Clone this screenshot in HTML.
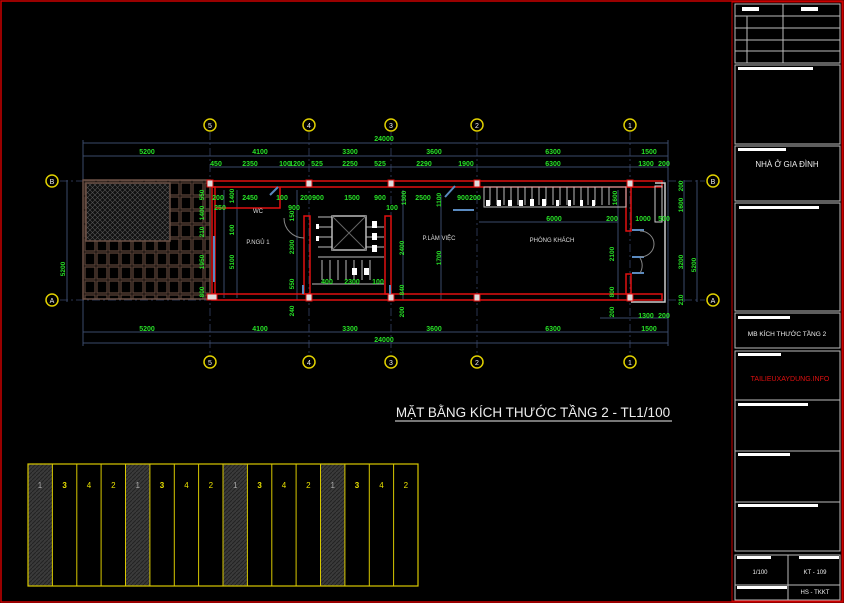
<!DOCTYPE html>
<html><head><meta charset="utf-8"><style>
html,body{margin:0;padding:0;background:#000;}
svg{display:block}
text{font-family:"Liberation Sans",sans-serif}
.g{fill:#27e027;font-size:7px;font-weight:bold;text-anchor:middle}
.w{fill:#ddd;font-size:6px;text-anchor:middle}
.dl{stroke:#3a4a6a;stroke-width:1;fill:none}
.ax{stroke:#2a3550;stroke-width:1;stroke-dasharray:8 3 2 3}
.rw{fill:none;stroke:#e01010;stroke-width:1.5}
.tb{fill:none;stroke:#bbb;stroke-width:1}
</style></head><body>
<svg width="844" height="603" viewBox="0 0 844 603" xmlns="http://www.w3.org/2000/svg">
<defs>
<pattern id="hat" width="4" height="4" patternUnits="userSpaceOnUse"><rect width="4" height="4" fill="#3a3a3a"/><path d="M0 4L4 0" stroke="#222" stroke-width="1"/></pattern>
<pattern id="dot" width="5" height="5" patternUnits="userSpaceOnUse"><rect width="5" height="5" fill="#111"/><path d="M0 0L5 5M5 0L0 5" stroke="#555" stroke-width=".6"/></pattern>
<pattern id="brk" width="12" height="14" patternUnits="userSpaceOnUse"><rect width="12" height="14" fill="#000"/><rect x="1" y="1" width="10" height="12" fill="none" stroke="#5a4238" stroke-width="1.3"/></pattern>
</defs>
<rect x="1" y="1" width="842" height="601" fill="none" stroke="#c00" stroke-width="1.5"/>
<rect x="732" y="2" width="110" height="599" fill="none" stroke="#c00" stroke-width="1"/>

<!-- axes -->
<g class="ax">
<line x1="210" y1="132" x2="210" y2="355"/><line x1="309" y1="132" x2="309" y2="355"/>
<line x1="391" y1="132" x2="391" y2="355"/><line x1="477" y1="132" x2="477" y2="355"/>
<line x1="630" y1="132" x2="630" y2="355"/>
<line x1="60" y1="181" x2="705" y2="181"/><line x1="60" y1="300" x2="705" y2="300"/>
</g>
<!-- dimension lines -->
<g class="dl">
<line x1="83" y1="143" x2="668" y2="143"/><line x1="83" y1="156" x2="668" y2="156"/><line x1="210" y1="167" x2="668" y2="167"/>
<line x1="83" y1="332" x2="668" y2="332"/><line x1="83" y1="343" x2="668" y2="343"/><line x1="600" y1="318" x2="668" y2="318"/>
<line x1="67" y1="180" x2="67" y2="302"/><line x1="83" y1="140" x2="83" y2="346"/>
<line x1="684" y1="180" x2="684" y2="302"/><line x1="697" y1="180" x2="697" y2="302"/>
<line x1="668" y1="140" x2="668" y2="346"/>
<line x1="224" y1="190" x2="224" y2="298"/><line x1="237" y1="190" x2="237" y2="298"/>
<line x1="297" y1="190" x2="297" y2="300"/><line x1="403" y1="190" x2="403" y2="300"/>
<line x1="441" y1="195" x2="441" y2="300"/><line x1="618" y1="190" x2="618" y2="300"/>
<line x1="479" y1="222" x2="618" y2="222"/>
</g>
<!-- grid bubbles -->
<g fill="none" stroke="#e0d000" stroke-width="1.5">
<circle cx="210" cy="125" r="6"/><circle cx="309" cy="125" r="6"/><circle cx="391" cy="125" r="6"/><circle cx="477" cy="125" r="6"/><circle cx="630" cy="125" r="6"/>
<circle cx="210" cy="362" r="6"/><circle cx="309" cy="362" r="6"/><circle cx="391" cy="362" r="6"/><circle cx="477" cy="362" r="6"/><circle cx="630" cy="362" r="6"/>
<circle cx="52" cy="181" r="6"/><circle cx="52" cy="300" r="6"/><circle cx="713" cy="181" r="6"/><circle cx="713" cy="300" r="6"/>
</g>
<g fill="#eee" font-size="7" text-anchor="middle" font-family="Liberation Sans">
<text x="210" y="128">5</text><text x="309" y="128">4</text><text x="391" y="128">3</text><text x="477" y="128">2</text><text x="630" y="128">1</text>
<text x="210" y="365">5</text><text x="309" y="365">4</text><text x="391" y="365">3</text><text x="477" y="365">2</text><text x="630" y="365">1</text>
<text x="52" y="184">B</text><text x="52" y="303">A</text><text x="713" y="184">B</text><text x="713" y="303">A</text>
</g>

<!-- terrace -->
<rect x="83" y="180" width="127" height="119" fill="url(#brk)" stroke="#6a5045" stroke-width="1.5"/>
<rect x="86" y="183" width="84" height="58" fill="url(#dot)" stroke="#6a5045" stroke-width="1.5"/>

<!-- walls -->
<rect x="212" y="181" width="450" height="6" class="rw"/>
<rect x="212" y="294" width="450" height="6" class="rw"/>
<rect x="212" y="187" width="3" height="107" class="rw"/>
<polyline class="rw" points="215,208 280,208 280,187"/>
<rect x="304" y="216" width="6" height="78" class="rw"/>
<rect x="385" y="216" width="6" height="78" class="rw"/>
<rect x="626" y="187" width="5" height="44" class="rw"/>
<rect x="626" y="274" width="5" height="20" class="rw"/>
<polyline points="655,183 665,183 665,302 631,302" fill="none" stroke="#ccc" stroke-width="1.5"/>
<rect x="655" y="186" width="7" height="36" fill="none" stroke="#ccc"/>
<g fill="#ddd" stroke="#e01010"><rect x="207" y="180" width="6" height="7"/><rect x="306" y="180" width="6" height="7"/><rect x="388" y="180" width="6" height="7"/><rect x="474" y="180" width="6" height="7"/><rect x="627" y="180" width="6" height="7"/>
<rect x="207" y="294" width="10" height="6"/><rect x="306" y="294" width="6" height="7"/><rect x="388" y="294" width="6" height="7"/><rect x="474" y="294" width="6" height="7"/><rect x="627" y="294" width="6" height="7"/></g>

<!-- stair -->
<g stroke="#bbb" fill="none" stroke-width="1">
<rect x="332" y="216" width="34" height="34" stroke-width="1.5"/>
<line x1="332" y1="216" x2="366" y2="250" stroke="#666"/><line x1="366" y1="216" x2="332" y2="250" stroke="#666"/>
<path d="M318 217H332M318 227H332M318 237H332M318 247H332M318 257H332M366 227H384M366 237H384M366 247H384M366 257H384M318 257H384"/>
<path d="M322 260V280M330 260V280M338 260V280M346 260V280M354 260V280M362 260V280M370 260V280"/>
<line x1="312" y1="284" x2="384" y2="284"/>
</g>
<g fill="#fff"><rect x="316" y="224" width="3" height="5"/><rect x="316" y="236" width="3" height="5"/><rect x="372" y="221" width="5" height="7"/><rect x="372" y="233" width="5" height="7"/><rect x="372" y="245" width="5" height="7"/><rect x="352" y="268" width="5" height="7"/><rect x="364" y="268" width="5" height="7"/></g>
<!-- balcony rail -->
<g stroke="#bbb" fill="none"><rect x="484" y="187" width="142" height="20"/><path d="M490 187v18M497 187v18M504 187v18M511 187v18M518 187v18M525 187v18M532 187v18M539 187v18M546 187v18M553 187v18M560 187v18M567 187v18M574 187v18M581 187v18M588 187v18M595 187v18M602 187v18M609 187v18"/></g>
<g fill="#fff"><rect x="486" y="200" width="4" height="6"/><rect x="497" y="200" width="4" height="6"/><rect x="508" y="200" width="4" height="6"/><rect x="519" y="200" width="4" height="6"/><rect x="530" y="199" width="4" height="7"/><rect x="542" y="199" width="4" height="7"/><rect x="556" y="200" width="3" height="6"/><rect x="568" y="200" width="3" height="6"/><rect x="580" y="200" width="3" height="6"/><rect x="592" y="200" width="3" height="6"/></g>
<!-- windows/doors -->
<g stroke="#5a8ac0" stroke-width="2"><line x1="214" y1="236" x2="214" y2="282"/><line x1="303" y1="285" x2="303" y2="294"/><line x1="390" y1="285" x2="390" y2="294"/><line x1="632" y1="230" x2="644" y2="230"/><line x1="632" y1="273" x2="644" y2="273"/><line x1="632" y1="257" x2="644" y2="257"/><line x1="445" y1="197" x2="455" y2="186"/><line x1="270" y1="195" x2="278" y2="187"/><line x1="453" y1="210" x2="474" y2="210"/></g>
<g stroke="#888" fill="none"><path d="M640 231a14 13 0 0 1 0 26M640 258a14 14 0 0 1 0 15"/><path d="M284 218a20 20 0 0 0 20 20"/></g>

<!-- room labels -->
<text class="w" x="258" y="213">WC</text><text class="w" x="258" y="244">P.NGỦ 1</text>
<text class="w" x="439" y="240">P.LÀM VIỆC</text><text class="w" x="552" y="242">PHÒNG KHÁCH</text>

<!-- dimension texts -->
<g class="g">
<text x="384" y="141">24000</text><text x="384" y="342">24000</text>
<text x="147" y="154">5200</text><text x="260" y="154">4100</text><text x="350" y="154">3300</text><text x="434" y="154">3600</text><text x="553" y="154">6300</text><text x="649" y="154">1500</text>
<text x="147" y="331">5200</text><text x="260" y="331">4100</text><text x="350" y="331">3300</text><text x="434" y="331">3600</text><text x="553" y="331">6300</text><text x="649" y="331">1500</text>
<text x="216" y="166">450</text><text x="250" y="166">2350</text><text x="285" y="166">100</text><text x="297" y="166">1200</text><text x="317" y="166">525</text><text x="350" y="166">2250</text><text x="380" y="166">525</text><text x="424" y="166">2290</text><text x="466" y="166">1900</text><text x="553" y="166">6300</text><text x="646" y="166">1300</text><text x="664" y="166">200</text>
<text x="250" y="200">2450</text><text x="282" y="200">100</text><text x="306" y="200">200</text><text x="318" y="200">900</text><text x="352" y="200">1500</text><text x="380" y="200">900</text><text x="423" y="200">2500</text><text x="463" y="200">900</text><text x="475" y="200">200</text>
<text x="218" y="200">200</text><text x="220" y="210">250</text><text x="294" y="210">900</text><text x="392" y="210">100</text>
<text x="554" y="221">6000</text><text x="612" y="221">200</text><text x="643" y="221">1000</text><text x="664" y="221">500</text>
<text x="327" y="284">400</text><text x="352" y="284">2300</text><text x="378" y="284">100</text>
<text x="646" y="318">1300</text><text x="664" y="318">200</text>
</g>
<g class="g" style="font-size:6.5px">
<text transform="translate(65,269) rotate(-90)">5200</text>
<text transform="translate(204,195) rotate(-90)">550</text><text transform="translate(204,213) rotate(-90)">1400</text><text transform="translate(204,232) rotate(-90)">210</text><text transform="translate(204,262) rotate(-90)">1950</text><text transform="translate(204,292) rotate(-90)">800</text>
<text transform="translate(234,196) rotate(-90)">1400</text><text transform="translate(234,230) rotate(-90)">100</text><text transform="translate(234,262) rotate(-90)">5100</text>
<text transform="translate(294,247) rotate(-90)">2300</text><text transform="translate(294,216) rotate(-90)">150</text><text transform="translate(294,284) rotate(-90)">550</text><text transform="translate(294,311) rotate(-90)">240</text>
<text transform="translate(404,248) rotate(-90)">2400</text><text transform="translate(404,290) rotate(-90)">840</text><text transform="translate(404,312) rotate(-90)">200</text><text transform="translate(406,198) rotate(-90)">1300</text>
<text transform="translate(441,258) rotate(-90)">1700</text><text transform="translate(441,200) rotate(-90)">1100</text>
<text transform="translate(617,198) rotate(-90)">1600</text><text transform="translate(614,254) rotate(-90)">2100</text><text transform="translate(614,292) rotate(-90)">800</text><text transform="translate(614,312) rotate(-90)">200</text>
<text transform="translate(683,186) rotate(-90)">200</text><text transform="translate(683,205) rotate(-90)">1600</text><text transform="translate(683,262) rotate(-90)">3200</text><text transform="translate(683,300) rotate(-90)">210</text>
<text transform="translate(696,265) rotate(-90)">5200</text>
</g>

<!-- title -->
<text x="533" y="417" fill="#eee" font-size="13.5" text-anchor="middle">MẶT BẰNG KÍCH THƯỚC TẦNG 2 - TL1/100</text>
<line x1="395" y1="421" x2="672" y2="421" stroke="#eee" stroke-width="1"/>

<!-- bottom strips -->
<g>
<rect x="28" y="464" width="24.4" height="122" fill="url(#hat)"/>
<rect x="125.5" y="464" width="24.4" height="122" fill="url(#hat)"/>
<rect x="223" y="464" width="24.4" height="122" fill="url(#hat)"/>
<rect x="320.5" y="464" width="24.4" height="122" fill="url(#hat)"/>
<rect x="28" y="464" width="390" height="122" fill="none" stroke="#d8c800" stroke-width="1.2"/>
<path d="M52.4 464v122M76.8 464v122M101.1 464v122M125.5 464v122M149.9 464v122M174.3 464v122M198.6 464v122M223 464v122M247.4 464v122M271.8 464v122M296.1 464v122M320.5 464v122M344.9 464v122M369.3 464v122M393.6 464v122" stroke="#d8c800" stroke-width="1"/>
<g fill="#e8e000" font-size="8" text-anchor="middle" font-family="Liberation Sans">
<text x="40" y="488" fill="#aaa">1</text><text x="64.6" y="488" font-weight="bold">3</text><text x="89" y="488">4</text><text x="113.3" y="488">2</text>
<text x="137.7" y="488" fill="#aaa">1</text><text x="162" y="488" font-weight="bold">3</text><text x="186.5" y="488">4</text><text x="210.8" y="488">2</text>
<text x="235.2" y="488" fill="#aaa">1</text><text x="259.6" y="488" font-weight="bold">3</text><text x="284" y="488">4</text><text x="308.3" y="488">2</text>
<text x="332.7" y="488" fill="#aaa">1</text><text x="357" y="488" font-weight="bold">3</text><text x="381.5" y="488">4</text><text x="405.8" y="488">2</text>
</g></g>

<!-- title block -->
<g class="tb">
<rect x="735" y="4" width="105" height="59"/>
<path d="M735 16H840M735 28H840M735 40H840M735 51H840M747 16V63M783 4V63"/>
<rect x="735" y="65" width="105" height="79"/>
<rect x="735" y="146" width="105" height="55"/>
<rect x="735" y="203" width="105" height="108"/>
<rect x="735" y="313" width="105" height="35"/>
<rect x="735" y="351" width="105" height="200"/>
<path d="M735 400H840M735 451H840M735 502H840"/>
<rect x="735" y="555" width="105" height="45"/>
<path d="M735 585H840M788 555V600"/>
</g>
<g fill="#fff">
<rect x="742" y="7" width="17" height="4"/><rect x="801" y="7" width="17" height="4"/>
<rect x="738" y="67" width="75" height="3"/><rect x="738" y="148" width="48" height="3"/>
<rect x="739" y="206" width="80" height="3"/><rect x="738" y="316" width="52" height="3"/>
<rect x="738" y="353" width="43" height="3"/><rect x="738" y="403" width="70" height="3"/>
<rect x="738" y="453" width="52" height="3"/><rect x="738" y="504" width="80" height="3"/>
<rect x="737" y="556" width="34" height="3"/><rect x="799" y="556" width="40" height="3"/><rect x="737" y="586" width="50" height="3"/>
</g>
<text x="787" y="167" fill="#eee" font-size="8" text-anchor="middle">NHÀ Ở GIA ĐÌNH</text>
<text x="787" y="336" fill="#eee" font-size="6.5" text-anchor="middle">MB KÍCH THƯỚC TẦNG 2</text>
<text x="790" y="381" fill="#e01010" font-size="7" text-anchor="middle">TAILIEUXAYDUNG.INFO</text>
<text x="760" y="574" fill="#eee" font-size="6" text-anchor="middle">1/100</text>
<text x="815" y="574" fill="#eee" font-size="6" text-anchor="middle">KT - 109</text>
<text x="815" y="594" fill="#eee" font-size="6" text-anchor="middle">HS - TKKT</text>
</svg>
</body></html>
